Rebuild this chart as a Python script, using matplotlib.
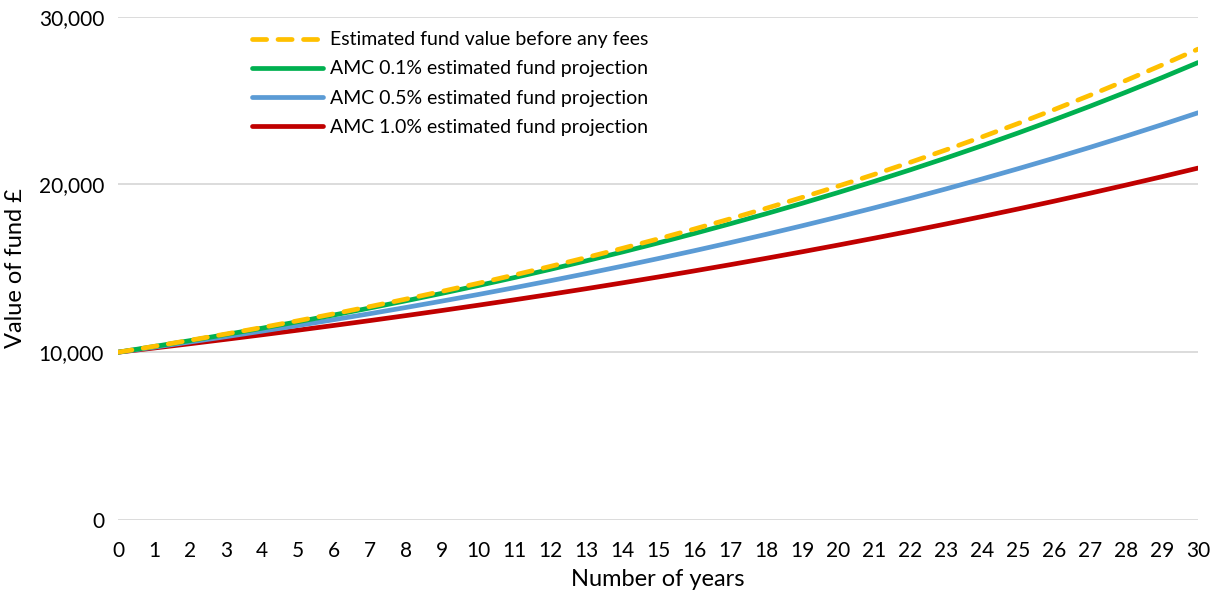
import matplotlib.pyplot as plt
from matplotlib.ticker import FuncFormatter

plt.rcParams['font.family'] = ['Lato', 'DejaVu Sans']

years = list(range(0, 31))

# estimated fund values (GBP)
before_fees = [10000, 10350, 10712, 11087, 11475, 11877, 12293, 12723, 13168, 13629,
               14106, 14600, 15111, 15640, 16187, 16753, 17340, 17947, 18575, 19225,
               19898, 20594, 21315, 22061, 22833, 23632, 24460, 25316, 26202, 27119, 28068]
amc_01 = [10000, 10340, 10692, 11055, 11431, 11820, 12221, 12637, 13067, 13511,
          13970, 14445, 14936, 15444, 15969, 16512, 17074, 17654, 18254, 18875,
          19517, 20180, 20867, 21576, 22310, 23068, 23853, 24663, 25502, 26369, 27266]
amc_05 = [10000, 10300, 10609, 10927, 11255, 11593, 11941, 12299, 12668, 13048,
          13439, 13842, 14258, 14685, 15126, 15580, 16047, 16528, 17024, 17535,
          18061, 18603, 19161, 19736, 20328, 20938, 21566, 22213, 22879, 23566, 24273]
amc_10 = [10000, 10250, 10506, 10769, 11038, 11314, 11597, 11887, 12184, 12489,
          12801, 13121, 13449, 13785, 14130, 14483, 14845, 15216, 15597, 15986,
          16386, 16796, 17216, 17646, 18087, 18539, 19003, 19478, 19965, 20464, 20976]

labels = ['Estimated fund value before any fees',
          'AMC 0.1% estimated fund projection',
          'AMC 0.5% estimated fund projection',
          'AMC 1.0% estimated fund projection']

fig = plt.figure(figsize=(12.11, 5.96), dpi=100)
ax = fig.add_axes([0.0974, 0.1275, 0.8919, 0.8445])

ax.plot(years, before_fees, color='#FFC000', lw=3.4, dashes=(3.0, 2.4),
        dash_capstyle='round', label=labels[0], zorder=5)
ax.plot(years, amc_01, color='#00B050', lw=3.4, solid_capstyle='round', label=labels[1], zorder=4)
ax.plot(years, amc_05, color='#5B9BD5', lw=3.4, solid_capstyle='round', label=labels[2], zorder=3)
ax.plot(years, amc_10, color='#C00000', lw=3.4, solid_capstyle='round', label=labels[3], zorder=2)

ax.set_xlim(0, 30)
ax.set_ylim(0, 30000)
ax.set_xticks(years)
ax.set_yticks([0, 10000, 20000, 30000])
ax.yaxis.set_major_formatter(FuncFormatter(lambda v, p: f'{int(v):,}'))
ax.grid(axis='y', color='#D9D9D9', lw=1.3)
ax.set_axisbelow(True)
for s in ['top', 'right', 'left', 'bottom']:
    ax.spines[s].set_visible(False)
ax.tick_params(axis='both', length=0, labelsize=15, colors='#000000')
ax.tick_params(axis='y', pad=10)
ax.tick_params(axis='x', pad=15)

ax.set_xlabel('Number of years', fontsize=17, labelpad=6)
ax.set_ylabel('Value of fund £', fontsize=17, labelpad=9)

ax.legend(loc='upper left', bbox_to_anchor=(0.115, 0.99), frameon=False, fontsize=14,
          handlelength=3.65, handletextpad=0.36, labelspacing=0.62, borderpad=0)

fig.savefig('out.png', dpi=100)
